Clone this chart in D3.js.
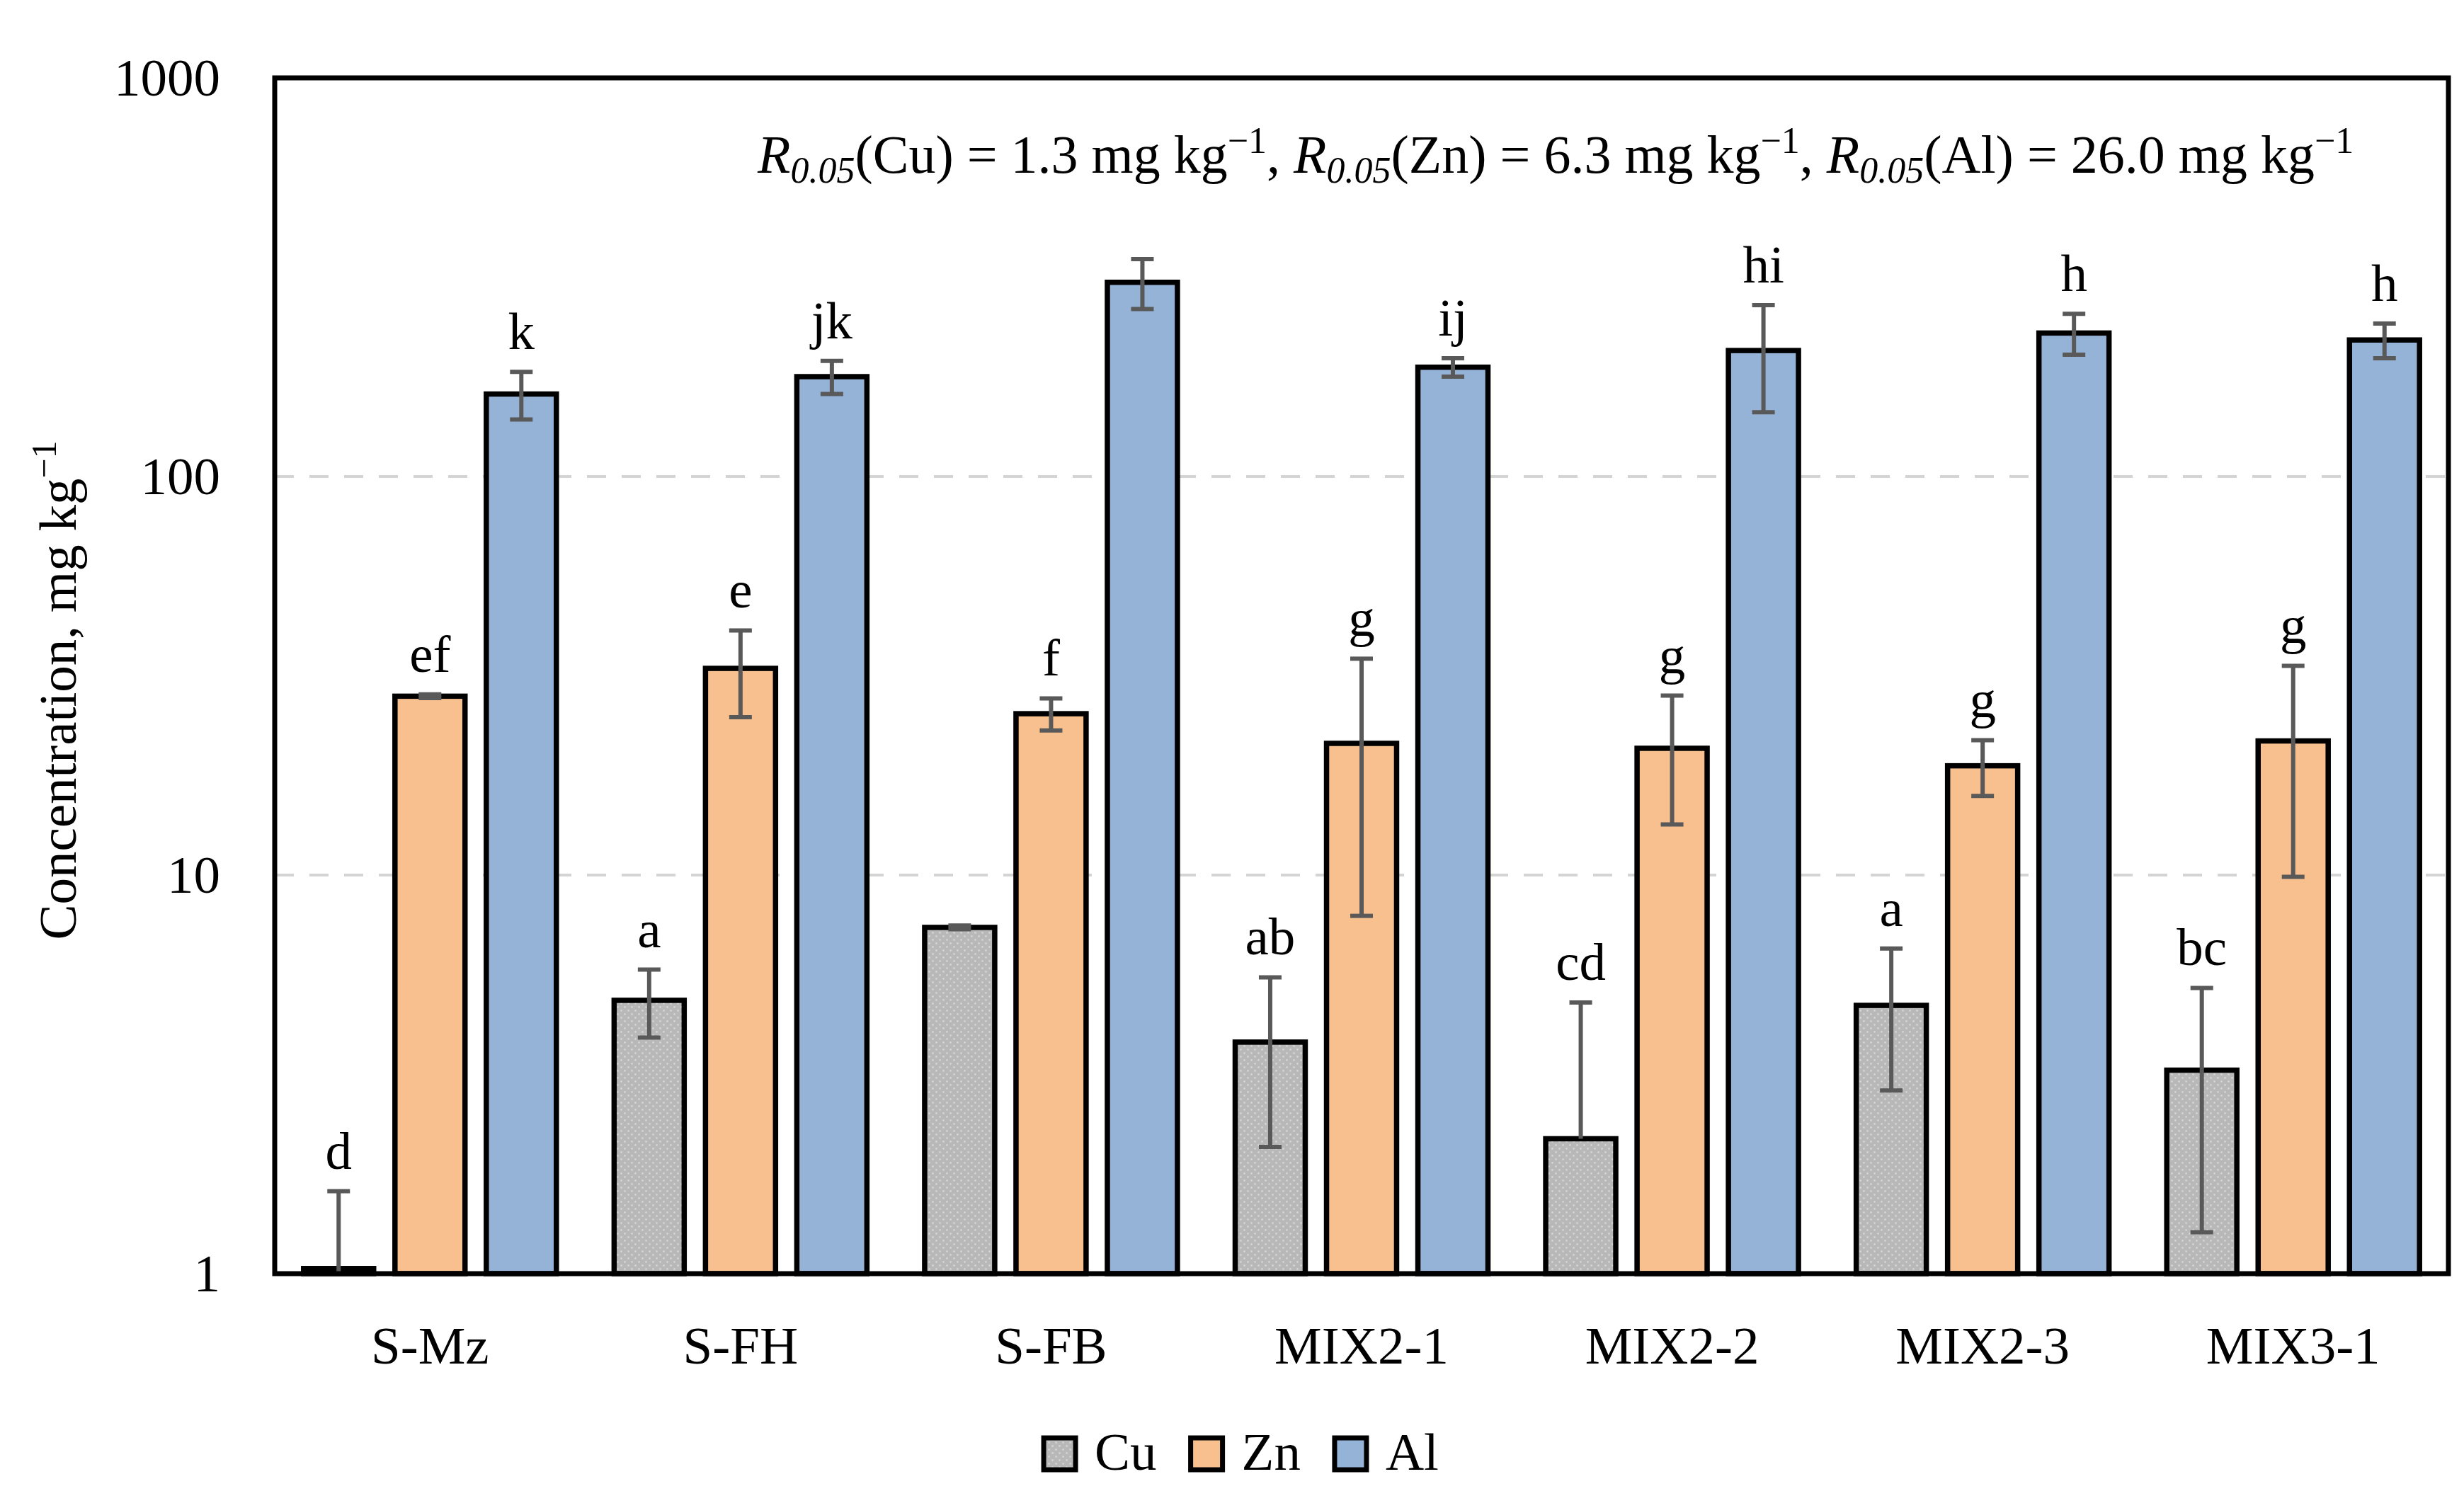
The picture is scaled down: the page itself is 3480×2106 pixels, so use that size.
<!DOCTYPE html>
<html>
<head>
<meta charset="utf-8">
<script src="https://cdn.jsdelivr.net/npm/d3@7"></script>
<style>
  html, body { margin: 0; padding: 0; background: #fff; }
  svg { display: block; }
  text { font-family: "Liberation Serif", "DejaVu Serif", serif; fill: #000; }
</style>
</head>
<body>
<svg id="chart" width="3480" height="2106"></svg>
<script>
// categories and series
const samples = ['S-Mz', 'S-FH', 'S-FB', 'MIX2-1', 'MIX2-2', 'MIX2-3', 'MIX3-1'];
const metals = ['Cu', 'Zn', 'Al'];

// mean concentrations, mg/kg
const cuMean = [1.03, 4.85, 7.39, 3.81, 2.18, 4.71, 3.24];
const znMean = [28.1, 33.0, 25.4, 21.4, 20.8, 18.8, 21.7];
const alMean = [161, 178, 307, 188, 207, 229, 220];

// standard deviations
const cuSd = [0.58, 0.94, 0.08, 1.73, 2.61, 1.83, 1.97];
const znSd = [0.3, 8.1, 2.35, 13.5, 7.4, 3.0, 11.8];
const alSd = [22, 17, 44, 10, 62, 27, 22];

// letters of the significance groups
const cuLetters = ['d', 'a', '', 'ab', 'cd', 'a', 'bc'];
const znLetters = ['ef', 'e', 'f', 'g', 'g', 'g', 'g'];
const alLetters = ['k', 'jk', '', 'ij', 'hi', 'h', 'h'];

// least significant differences R0.05
const lsdValues = ['1.3', '6.3', '26.0'];

const yTicks = [1, 10, 100, 1000];
const gridTicks = [10, 100];

const colors = { Cu: 'url(#dots)', Zn: '#f9c08f', Al: '#95b3d7' };

const means = { Cu: cuMean, Zn: znMean, Al: alMean };
const sds = { Cu: cuSd, Zn: znSd, Al: alSd };
const letters = { Cu: cuLetters, Zn: znLetters, Al: alLetters };

const rows = [];
samples.forEach((s, i) => {
    metals.forEach(m => {
        rows.push({ sample: s, metal: m, value: means[m][i], sd: sds[m][i], letter: letters[m][i] });
    });
});

const svg = d3.select('#chart');
const plotLeft = 388, plotRight = 3458, plotTop = 110, plotBottom = 1799;
const fontSize = 75;

// pattern for the copper bars
const defs = svg.append('defs');
const pat = defs.append('pattern').attr('id', 'dots')
    .attr('patternUnits', 'userSpaceOnUse').attr('width', 10).attr('height', 10);
pat.append('rect').attr('width', 10).attr('height', 10).attr('fill', '#b8b8b8');
pat.append('circle').attr('cx', 2.5).attr('cy', 2.5).attr('r', 1.4).attr('fill', '#d4d4d4');
pat.append('circle').attr('cx', 7.5).attr('cy', 7.5).attr('r', 1.4).attr('fill', '#d4d4d4');

const x0 = d3.scaleBand().domain(samples).range([plotLeft, plotRight])
    .paddingInner(0.186).paddingOuter(0.093);
const x1 = d3.scaleBand().domain(metals).range([0, x0.bandwidth()]).paddingInner(0.233);
const y = d3.scaleLog().domain([1, 1000]).range([plotBottom, plotTop]);

// grid lines
svg.append('g').selectAll('line').data(gridTicks).join('line')
    .attr('x1', plotLeft).attr('x2', plotRight)
    .attr('y1', d => y(d)).attr('y2', d => y(d))
    .attr('stroke', '#d4d4d4').attr('stroke-width', 4)
    .attr('stroke-dasharray', '27,22');

// bars
svg.append('g').selectAll('rect').data(rows).join('rect')
    .attr('x', d => x0(d.sample) + x1(d.metal))
    .attr('width', x1.bandwidth())
    .attr('y', d => y(d.value))
    .attr('height', d => y(1) - y(d.value))
    .attr('fill', d => colors[d.metal])
    .attr('stroke', '#000').attr('stroke-width', 7.5);

// error bars
const capW = 32;
const eb = svg.append('g').attr('stroke', '#595959').attr('stroke-width', 6);
rows.forEach(d => {
    const cx = x0(d.sample) + x1(d.metal) + x1.bandwidth() / 2;
    const hi = d.value + d.sd;
    const lo = d.value - d.sd;
    let yLo = y(d.value);
    if (lo >= 1) yLo = y(lo);
    else if (lo > 0) yLo = y(1);
    eb.append('line').attr('x1', cx).attr('x2', cx).attr('y1', y(hi)).attr('y2', yLo);
    eb.append('line').attr('x1', cx - capW / 2).attr('x2', cx + capW / 2).attr('y1', y(hi)).attr('y2', y(hi));
    if (lo >= 1) {
        eb.append('line').attr('x1', cx - capW / 2).attr('x2', cx + capW / 2).attr('y1', y(lo)).attr('y2', y(lo));
    }
});

// group letters
svg.append('g').selectAll('text').data(rows.filter(d => d.letter)).join('text')
    .attr('x', d => x0(d.sample) + x1(d.metal) + x1.bandwidth() / 2)
    .attr('y', d => y(d.value + d.sd) - 32)
    .attr('text-anchor', 'middle')
    .attr('font-size', fontSize)
    .text(d => d.letter);

// plot frame
svg.append('rect').attr('x', plotLeft).attr('y', plotTop)
    .attr('width', plotRight - plotLeft).attr('height', plotBottom - plotTop)
    .attr('fill', 'none').attr('stroke', '#000').attr('stroke-width', 7);

// y axis
const yAxis = svg.append('g').attr('transform', `translate(${plotLeft},0)`)
    .call(d3.axisLeft(y).tickValues(yTicks).tickFormat(d3.format('d')).tickSize(0).tickPadding(77));
yAxis.select('.domain').remove();
yAxis.selectAll('text').attr('font-size', fontSize).attr('font-family', null).attr('fill', '#000');

// x axis
const xAxis = svg.append('g').attr('transform', `translate(0,${plotBottom})`)
    .call(d3.axisBottom(x0).tickSize(0).tickPadding(74));
xAxis.select('.domain').remove();
xAxis.selectAll('text').attr('font-size', fontSize).attr('font-family', null).attr('fill', '#000');

// y axis title
const yTitle = svg.append('text')
    .attr('transform', 'translate(107,975) rotate(-90)')
    .attr('text-anchor', 'middle')
    .attr('font-size', fontSize);
yTitle.append('tspan').text('Concentration, mg kg');
yTitle.append('tspan').attr('font-size', 50).attr('dy', -28).text('\u22121');

// R0.05 annotation
const note = svg.append('text').attr('x', 1070).attr('y', 244).attr('font-size', 76);
metals.forEach((m, i) => {
    note.append('tspan').attr('font-style', 'italic').text('R');
    note.append('tspan').attr('font-style', 'italic').attr('font-size', 52).attr('dy', 14).text('0.05');
    note.append('tspan').attr('dy', -14).text(`(${m}) = ${lsdValues[i]} mg kg`);
    note.append('tspan').attr('font-size', 52).attr('dy', -28).text('\u22121');
    note.append('tspan').attr('dy', 28).text(i < metals.length - 1 ? ',\u00a0' : '');
});

// legend
const legend = svg.append('g');
let lx = 0;
metals.forEach(m => {
    const g = legend.append('g').attr('transform', `translate(${lx},0)`);
    g.append('rect').attr('x', 0).attr('y', 2031).attr('width', 45).attr('height', 45)
        .attr('fill', colors[m]).attr('stroke', '#000').attr('stroke-width', 7);
    const t = g.append('text').attr('x', 72).attr('y', 2076).attr('font-size', fontSize).text(m);
    lx += 72 + t.node().getComputedTextLength() + 48;
});
const legW = lx - 48;
legend.attr('transform', `translate(${1753 - legW / 2},0)`);
</script>
</body>
</html>
